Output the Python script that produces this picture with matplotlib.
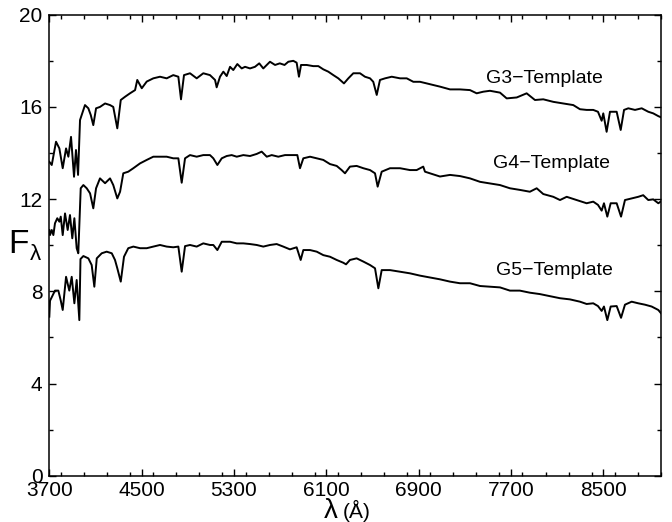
import matplotlib
matplotlib.use("Agg")
import matplotlib.pyplot as plt
from matplotlib.ticker import MultipleLocator, FixedLocator

plt.rcParams['font.family'] = ['Liberation Sans', 'DejaVu Sans']

# ---- data ----
g3_wave = [3700, 3721, 3758, 3787, 3816, 3845, 3865, 3888, 3914, 3931, 3949, 3966, 4009, 4038, 4059,
           4081, 4105, 4139, 4183, 4226, 4254, 4289, 4319, 4356, 4399, 4443, 4462, 4501, 4544, 4601,
           4659, 4717, 4774, 4818, 4841, 4867, 4919, 4977, 5034, 5092, 5136, 5150, 5179, 5208, 5237,
           5266, 5294, 5329, 5367, 5396, 5439, 5482, 5519, 5554, 5584, 5612, 5656, 5697, 5738, 5771,
           5814, 5843, 5863, 5881, 5930, 5987, 6031, 6074, 6117, 6161, 6204, 6253, 6291, 6334, 6392,
           6435, 6479, 6507, 6537, 6565, 6609, 6667, 6739, 6797, 6854, 6912, 6970, 7027, 7085, 7172,
           7258, 7345, 7403, 7460, 7518, 7605, 7663, 7750, 7836, 7908, 7980, 8067, 8153, 8240, 8298,
           8356, 8413, 8454, 8486, 8500, 8529, 8558, 8616, 8651, 8680, 8717, 8775, 8833, 8890, 8933,
           8977, 9000]
g3_flux = [13.62, 13.48, 14.49, 14.20, 13.34, 14.20, 13.84, 14.70, 12.97, 14.13, 13.05, 15.43, 16.08, 15.94, 15.65,
           15.21, 15.94, 16.00, 16.15, 16.08, 16.00, 15.07, 16.30, 16.44, 16.59, 16.73, 17.17, 16.81, 17.10, 17.24,
           17.31, 17.24, 17.38, 17.31, 16.33, 17.38, 17.46, 17.24, 17.46, 17.38, 17.17, 16.85, 17.31, 17.53, 17.34,
           17.74, 17.60, 17.86, 17.67, 17.74, 17.67, 17.74, 17.89, 17.67, 17.82, 17.96, 17.82, 17.89, 17.82, 17.96,
           18.00, 17.92, 17.31, 17.82, 17.82, 17.77, 17.77, 17.63, 17.53, 17.38, 17.24, 17.02, 17.24, 17.46, 17.46,
           17.31, 17.24, 17.09, 16.52, 17.17, 17.24, 17.31, 17.24, 17.24, 17.09, 17.09, 17.02, 16.95, 16.88, 16.76,
           16.76, 16.73, 16.59, 16.66, 16.70, 16.62, 16.37, 16.41, 16.59, 16.30, 16.33, 16.22, 16.15, 16.08, 15.90,
           15.87, 15.87, 15.79, 15.40, 15.72, 14.92, 15.79, 15.79, 15.00, 15.87, 15.94, 15.87, 15.94, 15.79, 15.72,
           15.60, 15.55]

g4_wave = [3700, 3706, 3721, 3735, 3749, 3769, 3787, 3799, 3816, 3836, 3859, 3879, 3899, 3917, 3937,
           3951, 3972, 3995, 4024, 4053, 4081, 4105, 4139, 4183, 4226, 4254, 4289, 4313, 4341, 4384,
           4428, 4486, 4544, 4601, 4659, 4717, 4774, 4818, 4847, 4876, 4919, 4977, 5034, 5092, 5121,
           5156, 5194, 5237, 5280, 5324, 5381, 5439, 5497, 5540, 5584, 5627, 5684, 5742, 5800, 5849,
           5872, 5901, 5959, 6017, 6074, 6132, 6190, 6233, 6262, 6305, 6363, 6421, 6479, 6522, 6545,
           6580, 6652, 6739, 6825, 6883, 6940, 6955, 6998, 7085, 7172, 7258, 7345, 7432, 7518, 7605,
           7691, 7777, 7864, 7923, 7980, 8067, 8125, 8183, 8269, 8356, 8413, 8454, 8486, 8506, 8535,
           8564, 8616, 8654, 8688, 8746, 8803, 8846, 8890, 8933, 8977, 9000]
g4_flux = [10.66, 10.44, 10.66, 10.44, 10.95, 11.17, 11.02, 11.24, 10.44, 11.38, 10.66, 11.31, 10.30, 11.17, 9.87,
           9.65, 12.47, 12.61, 12.47, 12.25, 11.60, 12.47, 12.90, 12.69, 12.90, 12.61, 12.03, 12.32, 13.12, 13.19,
           13.34, 13.55, 13.70, 13.84, 13.84, 13.84, 13.77, 13.77, 12.71, 13.77, 13.91, 13.84, 13.91, 13.91, 13.77,
           13.48, 13.77, 13.87, 13.91, 13.84, 13.91, 13.87, 13.96, 14.06, 13.84, 13.91, 13.84, 13.91, 13.91, 13.91,
           13.34, 13.77, 13.84, 13.77, 13.70, 13.52, 13.44, 13.26, 13.12, 13.41, 13.44, 13.34, 13.26, 13.12, 12.54,
           13.19, 13.34, 13.34, 13.26, 13.26, 13.41, 13.19, 13.12, 12.98, 13.05, 13.00, 12.90, 12.75, 12.68, 12.61,
           12.47, 12.40, 12.32, 12.47, 12.22, 12.10, 11.96, 12.10, 11.96, 11.82, 11.89, 11.75, 11.50, 11.82, 11.24,
           11.82, 11.82, 11.24, 11.96, 12.03, 12.10, 12.17, 11.96, 11.99, 11.82, 11.90]

g5_wave = [3700, 3706, 3749, 3778, 3799, 3816, 3845, 3873, 3894, 3917, 3937, 3960, 3970, 3995, 4038,
           4067, 4090, 4111, 4154, 4197, 4241, 4269, 4289, 4319, 4347, 4384, 4428, 4486, 4544, 4601,
           4659, 4717, 4774, 4818, 4847, 4876, 4919, 4977, 5034, 5092, 5121, 5156, 5194, 5266, 5324,
           5381, 5439, 5497, 5554, 5612, 5670, 5727, 5785, 5843, 5878, 5901, 5959, 6017, 6074, 6132,
           6190, 6247, 6271, 6305, 6363, 6421, 6479, 6522, 6551, 6580, 6652, 6739, 6825, 6912, 6998,
           7085, 7172, 7258, 7345, 7432, 7518, 7605, 7691, 7777, 7864, 7950, 8037, 8125, 8211, 8298,
           8356, 8413, 8454, 8486, 8506, 8535, 8564, 8616, 8654, 8688, 8746, 8803, 8861, 8919, 8977,
           9000]
g5_flux = [6.90, 7.59, 8.03, 8.03, 7.60, 7.19, 8.63, 8.03, 8.63, 7.48, 8.49, 6.75, 9.40, 9.53, 9.43,
           9.14, 8.20, 9.43, 9.65, 9.72, 9.65, 9.36, 9.00, 8.42, 9.50, 9.87, 9.94, 9.87, 9.87, 9.94,
           10.01, 9.94, 9.91, 9.94, 8.85, 9.96, 10.01, 9.94, 10.08, 10.01, 10.01, 9.79, 10.15, 10.15, 10.08,
           10.08, 10.05, 10.01, 9.94, 10.01, 10.05, 9.94, 9.82, 9.91, 9.36, 9.79, 9.79, 9.72, 9.57, 9.50,
           9.36, 9.24, 9.17, 9.36, 9.43, 9.29, 9.14, 9.00, 8.13, 8.92, 8.92, 8.85, 8.78, 8.68, 8.60,
           8.52, 8.42, 8.35, 8.35, 8.23, 8.20, 8.17, 8.03, 8.03, 7.94, 7.88, 7.79, 7.70, 7.65, 7.55,
           7.45, 7.48, 7.36, 7.15, 7.34, 6.75, 7.34, 7.36, 6.85, 7.42, 7.55, 7.48, 7.42, 7.34, 7.19,
           7.05]

labels = ["G3\u2212Template", "G4\u2212Template", "G5\u2212Template"]
label_pos = [(7990, 17.25), (8050, 13.55), (8075, 8.92)]

x_ticks = [3700, 4500, 5300, 6100, 6900, 7700, 8500]
y_ticks = [0, 4, 8, 12, 16, 20]

# ---- figure ----
fig = plt.figure(figsize=(6.72, 5.22), dpi=100)
ax = fig.add_axes([0.0734, 0.0887, 0.9102, 0.8831])

for w, f in [(g3_wave, g3_flux), (g4_wave, g4_flux), (g5_wave, g5_flux)]:
    ax.plot(w, f, color='black', lw=1.4, solid_joinstyle='round')

for lab, (lx, ly) in zip(labels, label_pos):
    ax.text(lx, ly, lab, fontsize=14, ha='center', va='center', color='black')

ax.set_xlim(3700, 9000)
ax.set_ylim(0, 20)
ax.xaxis.set_major_locator(FixedLocator(x_ticks))
ax.xaxis.set_minor_locator(MultipleLocator(200))
ax.yaxis.set_major_locator(FixedLocator(y_ticks))
ax.yaxis.set_minor_locator(MultipleLocator(2))
ax.tick_params(which='both', direction='in', top=True, right=True, width=1.0, labelsize=15)
ax.tick_params(which='major', length=5)
ax.tick_params(which='minor', length=3)
ax.tick_params(axis='x', pad=4)
ax.tick_params(axis='y', pad=5)
for s in ax.spines.values():
    s.set_linewidth(1.1)

fig.text(0.028, 0.531, "F", fontsize=24, ha='center', va='center')
fig.text(0.052, 0.513, "\u03bb", fontsize=16, ha='center', va='center')
fig.text(0.503, 0.022, "\u03bb", fontsize=20, ha='right', va='center')
fig.text(0.510, 0.022, "(\u00c5)", fontsize=15, ha='left', va='center')

fig.savefig("out.png", dpi=100, facecolor='white')
